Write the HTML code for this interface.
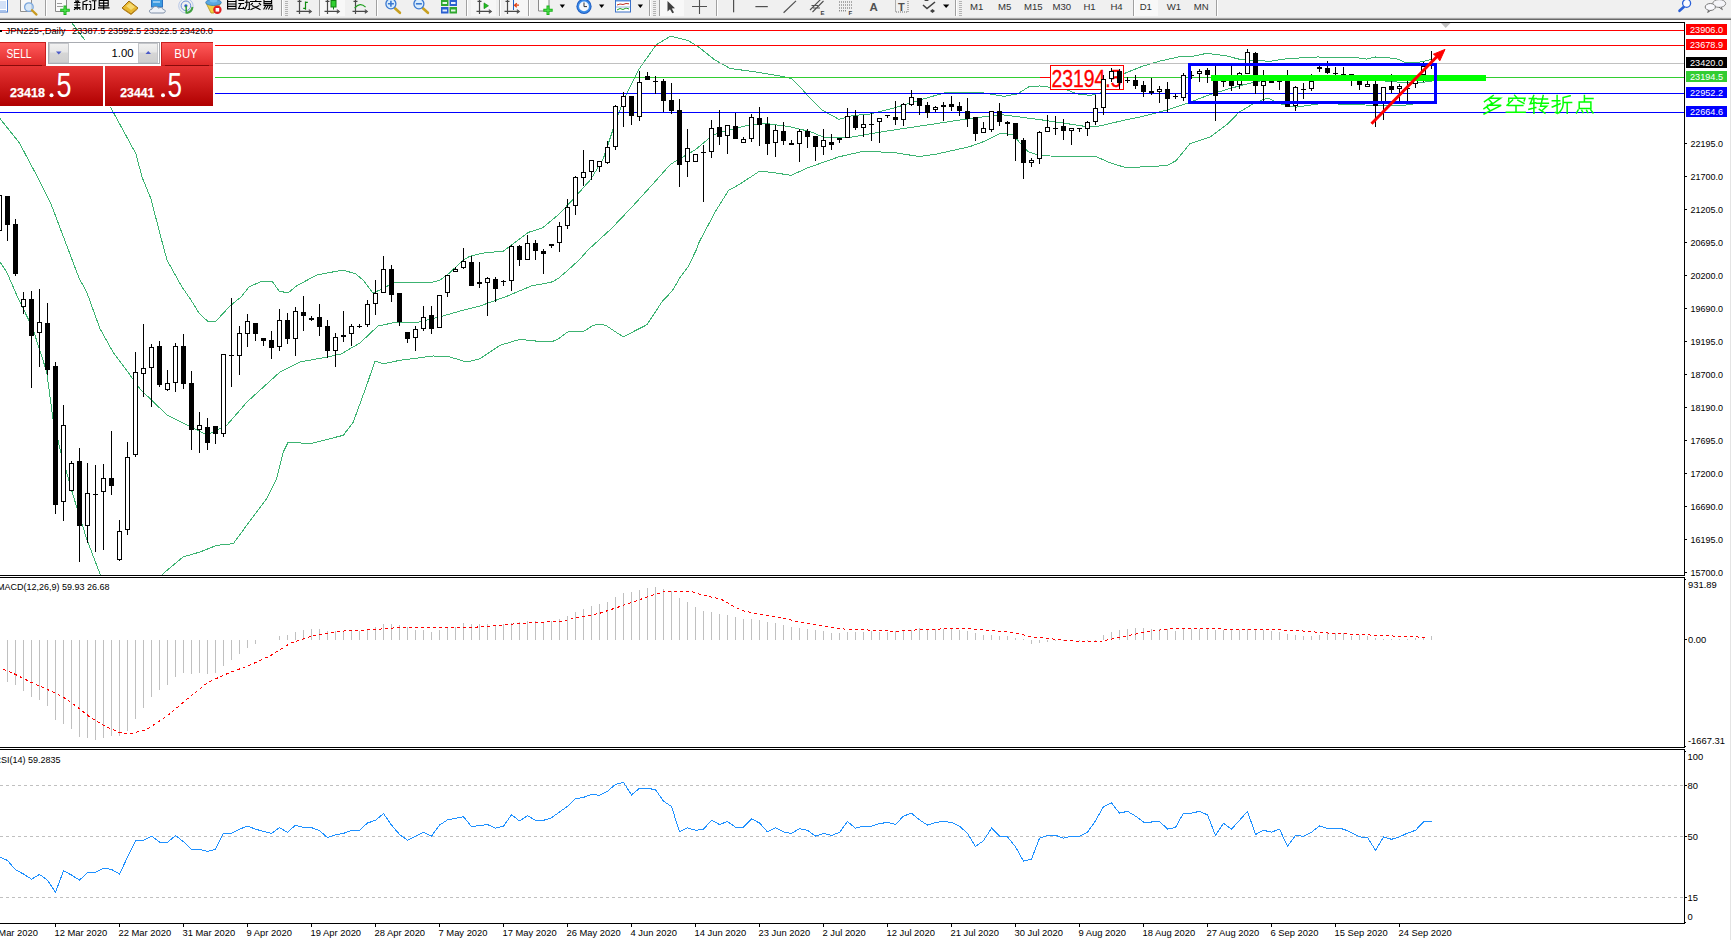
<!DOCTYPE html>
<html><head><meta charset="utf-8"><title>MT4 JPN225 Daily</title>
<style>
html,body{margin:0;padding:0;background:#fff;}
body{width:1731px;height:940px;overflow:hidden;position:relative;font-family:'Liberation Sans',sans-serif;}
</style></head><body>
<svg width="1731" height="940" viewBox="0 0 1731 940" style="position:absolute;left:0;top:0"><defs><clipPath id="cm"><rect x="0" y="23" width="1684" height="552"/></clipPath><clipPath id="cmacd"><rect x="0" y="578" width="1684" height="169"/></clipPath><clipPath id="crsi"><rect x="0" y="750" width="1684" height="173"/></clipPath><linearGradient id="gSellBtn" x1="0" y1="0" x2="0" y2="1"><stop offset="0" stop-color="#ff5a5a"/><stop offset="1" stop-color="#e02a2a"/></linearGradient><linearGradient id="gPrice" x1="0" y1="0" x2="0" y2="1"><stop offset="0" stop-color="#e63434"/><stop offset="1" stop-color="#b00000"/></linearGradient><linearGradient id="gSpin" x1="0" y1="0" x2="0" y2="1"><stop offset="0" stop-color="#f2f2f2"/><stop offset="0.45" stop-color="#e6e6e6"/><stop offset="0.5" stop-color="#d6d6d6"/><stop offset="1" stop-color="#cfcfcf"/></linearGradient></defs><rect x="0" y="0" width="1731" height="18" fill="#f0f0f0"/><rect x="0" y="17" width="1731" height="1" fill="#e4e4e4"/><rect x="0" y="18" width="1731" height="1" fill="#a4a4a4"/><rect x="0" y="19" width="1731" height="1" fill="#686868"/><rect x="-4" y="-2" width="11.5" height="14" fill="#ffffff" stroke="#4b7fd0" stroke-width="1"/><rect x="0" y="1.5" width="6" height="1" fill="#a8c4f0"/><rect x="0" y="3.5" width="6" height="1" fill="#a8c4f0"/><rect x="0" y="5.5" width="6" height="1" fill="#a8c4f0"/><rect x="0" y="7.5" width="6" height="1" fill="#a8c4f0"/><rect x="0" y="10" width="6" height="1" fill="#a8c4f0"/><path d="M20.5 -1 V11.5 H31.5 V-1" fill="#f8f8f8" stroke="#909090" stroke-width="1"/><circle cx="28.9" cy="7.1" r="4.3" fill="#cfe3f8" fill-opacity="0.8" stroke="#7aa6dc" stroke-width="1.3"/><path d="M32 10.2 L36.5 14.6" stroke="#c89a20" stroke-width="2.2" stroke-linecap="round"/><rect x="45" y="0" width="1" height="16" fill="#a0a0a0"/><rect x="46" y="0" width="1" height="16" fill="#ffffff"/><path d="M55.5 -1 V11.5 H66.5 V-1" fill="#fafafa" stroke="#8a8a8a" stroke-width="1"/><rect x="57" y="3" width="5" height="1" fill="#9a9a9a"/><rect x="57" y="6" width="6" height="1" fill="#9a9a9a"/><path d="M65 5.5 V15 M60.2 10.2 H69.8" stroke="#19b219" stroke-width="3"/><path d="M65 6.5 V14 M61.2 10.2 H68.8" stroke="#58e858" stroke-width="1"/><path d="M74 2.5H80.5 M74.5 5H80 M74 7.5H80.5 M77.2 0V10 M76.5 7.8L74 9.8 M78 7.8L80.5 9.5 M75.5 0.5L76.2 2 M79 0.5L78.3 2 M83 1.5V10 M83 4.5H88.5 M86.3 4.5V10 M87.5 0.3L83.5 1.8 M89.5 1L90.8 2.3 M89.2 4.5H90.8V9L89.3 10 M91.8 0.7H96.5 M94.6 0.7V9.5L92.7 9.5 M99.2 0.5V5.8H108.2V0.5Z M99.2 3.1H108.2 M103.7 0V10 M98 7.8H109.5" stroke="#000" stroke-width="1.15" fill="none"/><path d="M122 8 L129 1 L138 8 L131 14 Z" fill="#e8b830" stroke="#9a6a10" stroke-width="1"/><path d="M123 9 L131 14.5 L137.5 9" fill="none" stroke="#c08a20" stroke-width="1"/><path d="M126 6 L130 3 L135 7 L131 10 Z" fill="#f6da70"/><rect x="151.5" y="-1" width="11" height="8" fill="#3c9ae0" stroke="#2a70c0" stroke-width="1"/><rect x="153" y="1.5" width="7" height="1" fill="#e8f4ff"/><path d="M151.5 13 C148.5 13 149 9 152 9.2 C152.5 6 157.5 5.5 158.5 8.2 C160 6.8 163 7.5 163 9.5 C166 9.5 166 13 163 13 Z" fill="#eef2f8" stroke="#8090a8" stroke-width="1"/><circle cx="185.9" cy="5.8" r="7.2" fill="none" stroke="#b8c8e8" stroke-width="1"/><circle cx="185.9" cy="5.8" r="4.8" fill="none" stroke="#6a8ed8" stroke-width="1"/><path d="M192.5 7 A7 7 0 0 1 186.5 13" fill="none" stroke="#40a040" stroke-width="2"/><circle cx="185.9" cy="5.8" r="1.6" fill="#2a5ac8"/><path d="M186.2 6 V13.5" stroke="#30a030" stroke-width="1.5"/><path d="M206 3 L221 3 L214 13 L211 13 Z" fill="#f0d040" stroke="#b09020" stroke-width="0.8"/><ellipse cx="213.5" cy="2.5" rx="7.8" ry="3" fill="#5aa8e0" stroke="#3078b8" stroke-width="0.8"/><ellipse cx="213.5" cy="0" rx="4" ry="2.5" fill="#7ac0f0"/><circle cx="217.4" cy="9.8" r="4.2" fill="#e02020"/><rect x="215.6" y="8" width="3.6" height="3.6" fill="#ffffff"/><path d="M227.6 0V9.5 M236 0V9.5 M227.6 1.5H236 M227.6 4H236 M227.6 6.3H236 M227.6 8.8H236 M238.4 0.4H244.2 M238.4 3.5H244.2 M241 3.5L238.6 8.5H244 L243 7 M244.8 2.2H249.3V9.5H247.5 M246.8 0V5 L244.6 9.8 M255.8 -0.5V1 M250 1.5H261.5 M252.8 3L250.6 5 M258.8 3L261 5 M252 5.5L260.5 9.8 M259.3 5.5L250.5 9.8 M264 -0.5V3.6H271.6V-0.5 M264 1.6H271.6 M263.5 5.3H272V9.5H270.5 M266 5.3L263.6 9.5 M268.4 5.3L265.8 9.5 M270.7 5.3L268.4 9.5" stroke="#000" stroke-width="1.15" fill="none"/><rect x="281" y="0" width="1" height="16" fill="#a0a0a0"/><rect x="282" y="0" width="1" height="16" fill="#ffffff"/><rect x="285" y="1" width="3" height="1" fill="#b4b4b4"/><rect x="285" y="3" width="3" height="1" fill="#b4b4b4"/><rect x="285" y="5" width="3" height="1" fill="#b4b4b4"/><rect x="285" y="7" width="3" height="1" fill="#b4b4b4"/><rect x="285" y="9" width="3" height="1" fill="#b4b4b4"/><rect x="285" y="11" width="3" height="1" fill="#b4b4b4"/><rect x="285" y="13" width="3" height="1" fill="#b4b4b4"/><rect x="285" y="15" width="3" height="1" fill="#b4b4b4"/><path d="M299.5 0V13.9M296.5 11.4H310.5M297.5 1.4H301.5" stroke="#4a4a4a" stroke-width="1.2" fill="none"/><path d="M308.8 9.6L311.3 11.4L308.8 13.200000000000001" stroke="#4a4a4a" stroke-width="1.1" fill="none"/><path d="M305.5 1.4 V9.7 M305.5 2.4 H307.8 M303.2 8.3 H305.5" stroke="#108a10" stroke-width="1.2" fill="none"/><rect x="319" y="0" width="1" height="16" fill="#a0a0a0"/><rect x="320" y="0" width="1" height="16" fill="#ffffff"/><rect x="320" y="0" width="25" height="16" fill="#f8f8f8"/><path d="M327.5 0V13.9M324.5 11.4H338.5M325.5 1.4H329.5" stroke="#4a4a4a" stroke-width="1.2" fill="none"/><path d="M336.8 9.6L339.3 11.4L336.8 13.200000000000001" stroke="#4a4a4a" stroke-width="1.1" fill="none"/><rect x="331" y="0.5" width="5" height="6.5" fill="#30d030" stroke="#108010" stroke-width="1"/><rect x="333" y="7" width="1" height="2.5" fill="#108010"/><path d="M355.5 0V13.9M352.5 11.4H366.5M353.5 1.4H357.5" stroke="#4a4a4a" stroke-width="1.2" fill="none"/><path d="M364.8 9.6L367.3 11.4L364.8 13.200000000000001" stroke="#4a4a4a" stroke-width="1.1" fill="none"/><path d="M354.6 8.2 Q360 1.5 365.6 7.1" stroke="#20a020" stroke-width="1.2" fill="none"/><rect x="376" y="0" width="1" height="16" fill="#a0a0a0"/><rect x="377" y="0" width="1" height="16" fill="#ffffff"/><path d="M394.9 8.3 L399.9 12.8" stroke="#c8a020" stroke-width="2.6" stroke-linecap="round"/><circle cx="390.9" cy="3.8" r="5" fill="#d8ecfc" stroke="#3a78d0" stroke-width="1.3"/><path d="M387.9 3.8H393.9 M390.9 0.8V6.8" stroke="#3a78d0" stroke-width="1.6"/><path d="M422.9 8.3 L427.9 12.8" stroke="#c8a020" stroke-width="2.6" stroke-linecap="round"/><circle cx="418.9" cy="3.8" r="5" fill="#d8ecfc" stroke="#3a78d0" stroke-width="1.3"/><path d="M415.9 3.8H421.9" stroke="#3a78d0" stroke-width="1.6"/><rect x="441" y="-1" width="7.5" height="7" fill="#30a830"/><rect x="449.5" y="-1" width="7.5" height="7" fill="#2a60d0"/><rect x="441" y="7" width="7.5" height="6.5" fill="#2a60d0"/><rect x="449.5" y="7" width="7.5" height="6.5" fill="#30a830"/><rect x="442.5" y="2" width="4.5" height="2" fill="#e8f8e8"/><rect x="451" y="2" width="4.5" height="2" fill="#e8f0ff"/><rect x="442.5" y="9.5" width="4.5" height="2" fill="#e8f0ff"/><rect x="451" y="9.5" width="4.5" height="2" fill="#e8f8e8"/><rect x="466" y="0" width="1" height="16" fill="#a0a0a0"/><rect x="467" y="0" width="1" height="16" fill="#ffffff"/><rect x="471" y="0" width="25" height="16" fill="#f6f6f6"/><path d="M479.5 0V13.9M476.5 11.4H490.5M477.5 1.4H481.5" stroke="#4a4a4a" stroke-width="1.2" fill="none"/><path d="M488.8 9.6L491.3 11.4L488.8 13.200000000000001" stroke="#4a4a4a" stroke-width="1.1" fill="none"/><path d="M484 2.9 L488.5 5.8 L484 8.7 Z" fill="#20c020" stroke="#108010" stroke-width="0.6"/><rect x="499" y="0" width="1" height="16" fill="#a0a0a0"/><rect x="500" y="0" width="1" height="16" fill="#ffffff"/><rect x="505" y="0" width="24" height="16" fill="#f6f6f6"/><path d="M507.5 0V13.9M504.5 11.4H518.5M505.5 1.4H509.5" stroke="#4a4a4a" stroke-width="1.2" fill="none"/><path d="M516.8 9.6L519.3 11.4L516.8 13.200000000000001" stroke="#4a4a4a" stroke-width="1.1" fill="none"/><rect x="513" y="0" width="1" height="10" fill="#2060c0"/><path d="M519 5.2 H515 M516.8 3.2 L514.5 5.2 L516.8 7.2" stroke="#e04010" stroke-width="1.2" fill="none"/><rect x="528" y="0" width="1" height="16" fill="#a0a0a0"/><rect x="529" y="0" width="1" height="16" fill="#ffffff"/><path d="M538.5 -1 V11 H549 V-1" fill="#fafafa" stroke="#8a8a8a" stroke-width="1"/><path d="M548 5.5 V15 M543.3 10.2 H552.7" stroke="#19b219" stroke-width="3"/><path d="M548 6.5 V14 M544.3 10.2 H551.7" stroke="#58e858" stroke-width="1"/><path d="M559.7 4.6 H565 L562.35 8 Z" fill="#000"/><circle cx="584" cy="6.4" r="7.6" fill="#1e5cc0"/><circle cx="584" cy="6.4" r="6.6" fill="#3a8ae8"/><circle cx="584" cy="6.4" r="4.9" fill="#f4f8fc"/><path d="M584 2.5 V6.6 H587" stroke="#333" stroke-width="1" fill="none"/><path d="M599 4.6 H604.3 L601.65 8 Z" fill="#000"/><rect x="615.5" y="-1" width="15" height="13" fill="#ffffff" stroke="#3a70c8" stroke-width="1"/><rect x="616" y="-1" width="14" height="2.5" fill="#5a90e0"/><path d="M617 5 L620 4 L623 4.5 L626 3.5 L629 3.8" stroke="#c03020" stroke-width="1" fill="none"/><path d="M617 10 L620 8.5 L623 9.5 L626 8 L629 9" stroke="#20a020" stroke-width="1" fill="none"/><rect x="616" y="6.5" width="14" height="1" fill="#a0b8e0"/><path d="M637.7 4.6 H643 L640.35 8 Z" fill="#000"/><rect x="649" y="0" width="1" height="16" fill="#a0a0a0"/><rect x="650" y="0" width="1" height="16" fill="#ffffff"/><rect x="653" y="1" width="3" height="1" fill="#b4b4b4"/><rect x="653" y="3" width="3" height="1" fill="#b4b4b4"/><rect x="653" y="5" width="3" height="1" fill="#b4b4b4"/><rect x="653" y="7" width="3" height="1" fill="#b4b4b4"/><rect x="653" y="9" width="3" height="1" fill="#b4b4b4"/><rect x="653" y="11" width="3" height="1" fill="#b4b4b4"/><rect x="653" y="13" width="3" height="1" fill="#b4b4b4"/><rect x="653" y="15" width="3" height="1" fill="#b4b4b4"/><rect x="659" y="0" width="1" height="16" fill="#a0a0a0"/><rect x="660" y="0" width="1" height="16" fill="#ffffff"/><rect x="660" y="0" width="24" height="16" fill="#f8f8f8"/><path d="M667.5 1 L667.5 11.5 L670 9.3 L672.3 13.3 L674 12.4 L671.8 8.5 L675 8.2 Z" fill="#404040"/><path d="M692 6.5 H707 M699.5 0 V14" stroke="#505050" stroke-width="1.1"/><rect x="716" y="0" width="1" height="16" fill="#a0a0a0"/><rect x="717" y="0" width="1" height="16" fill="#ffffff"/><rect x="733" y="0" width="1.2" height="12.3" fill="#505050"/><rect x="755.4" y="6" width="12.4" height="1.2" fill="#505050"/><path d="M783.6 12.7 L796 0.9" stroke="#505050" stroke-width="1.2"/><path d="M810 10 L821 -1 M812.5 12 L823.5 1 M811.5 5.5 H818 M813 8 H820" stroke="#505050" stroke-width="1.1" fill="none"/><text x="820.4" y="15" font-family="'Liberation Sans', sans-serif" font-size="6" font-weight="bold" fill="#404040">E</text><path d="M839 2H852 M839 5H852 M839 8H852 M839 10.8H846" stroke="#606060" stroke-width="1" stroke-dasharray="1,1" fill="none"/><text x="848.5" y="15" font-family="'Liberation Sans', sans-serif" font-size="6" font-weight="bold" fill="#404040">F</text><text x="869.5" y="11" font-family="'Liberation Sans', sans-serif" font-size="11.5" font-weight="bold" fill="#505050">A</text><rect x="895.5" y="-0.5" width="12.5" height="12.5" fill="none" stroke="#707070" stroke-width="1" stroke-dasharray="1,1"/><text x="898" y="10.5" font-family="'Liberation Sans', sans-serif" font-size="11" font-weight="bold" fill="#505050">T</text><path d="M924 1 L926.5 -1 L929 1 Z M930 11 L932.5 13 L935 11 L932.5 9 Z" fill="#404040"/><path d="M923 5 L927 8.5 L935 2" stroke="#404040" stroke-width="1.6" fill="none"/><path d="M943 4.5 H949.3 L946.15 8 Z" fill="#000"/><rect x="955" y="0" width="1" height="16" fill="#a0a0a0"/><rect x="956" y="0" width="1" height="16" fill="#ffffff"/><rect x="959" y="1" width="3" height="1" fill="#b4b4b4"/><rect x="959" y="3" width="3" height="1" fill="#b4b4b4"/><rect x="959" y="5" width="3" height="1" fill="#b4b4b4"/><rect x="959" y="7" width="3" height="1" fill="#b4b4b4"/><rect x="959" y="9" width="3" height="1" fill="#b4b4b4"/><rect x="959" y="11" width="3" height="1" fill="#b4b4b4"/><rect x="959" y="13" width="3" height="1" fill="#b4b4b4"/><rect x="959" y="15" width="3" height="1" fill="#b4b4b4"/><text x="970" y="10.2" font-family="'Liberation Sans', sans-serif" font-size="9.6" fill="#333">M1</text><text x="998" y="10.2" font-family="'Liberation Sans', sans-serif" font-size="9.6" fill="#333">M5</text><text x="1024" y="10.2" font-family="'Liberation Sans', sans-serif" font-size="9.6" fill="#333">M15</text><text x="1052.5" y="10.2" font-family="'Liberation Sans', sans-serif" font-size="9.6" fill="#333">M30</text><text x="1083.4" y="10.2" font-family="'Liberation Sans', sans-serif" font-size="9.6" fill="#333">H1</text><text x="1110.4" y="10.2" font-family="'Liberation Sans', sans-serif" font-size="9.6" fill="#333">H4</text><rect x="1133" y="0" width="25" height="16" fill="#f8f8f8"/><rect x="1133" y="0" width="1" height="16" fill="#a0a0a0"/><rect x="1134" y="0" width="1" height="16" fill="#ffffff"/><text x="1139.7" y="10.2" font-family="'Liberation Sans', sans-serif" font-size="9.6" fill="#333">D1</text><text x="1166.8" y="10.2" font-family="'Liberation Sans', sans-serif" font-size="9.6" fill="#333">W1</text><text x="1193.8" y="10.2" font-family="'Liberation Sans', sans-serif" font-size="9.6" fill="#333">MN</text><rect x="1216" y="0" width="1" height="16" fill="#a0a0a0"/><rect x="1217" y="0" width="1" height="16" fill="#ffffff"/><path d="M1683.7 7 L1679.5 10.8" stroke="#2a60d8" stroke-width="2.6" stroke-linecap="round"/><circle cx="1686.6" cy="3.3" r="4" fill="#fbfbff" stroke="#2a60d8" stroke-width="1.3"/><ellipse cx="1719.2" cy="3.5" rx="6.5" ry="3.9" fill="#f4f4f8" stroke="#8a8a8a" stroke-width="1"/><path d="M1721 7 L1722.4 9.6 L1719 7.2" fill="#f4f4f8" stroke="#6a6a6a" stroke-width="1"/><ellipse cx="1710.3" cy="7" rx="5.1" ry="3.5" fill="#f8f8fc" stroke="#7a7a7a" stroke-width="1"/><path d="M1708.8 10.2 L1707.7 12.4 L1710.6 10.4" fill="#f4f4f8" stroke="#5a5a5a" stroke-width="1"/><rect x="1730" y="20" width="1" height="920" fill="#e4e4e4"/><g clip-path="url(#cm)"><polyline points="72.0,23.0 84.0,39.0 111.0,108.0 136.0,154.0 142.0,177.0 151.0,199.0 160.0,234.0 167.0,260.0 182.0,287.0 191.0,300.0 199.0,313.0 208.0,321.6 215.5,321.6 230.0,306.0 241.0,297.0 249.0,287.0 262.0,281.0 272.0,281.0 279.0,291.0 288.0,293.0 297.0,285.5 317.0,275.0 330.0,272.5 343.0,270.0 356.0,274.0 364.0,281.0 373.0,293.0 382.0,289.0 393.0,283.0 419.0,282.0 430.0,283.0 440.0,280.0 449.0,273.5 463.5,259.6 470.0,256.3 482.5,253.2 503.4,251.1 511.7,244.9 528.4,232.4 543.0,227.6 559.6,213.6 574.2,198.0 590.9,179.2 603.4,158.4 615.9,120.8 624.4,98.2 638.9,69.3 656.2,44.8 670.6,36.1 688.0,40.4 699.5,47.7 714.9,60.0 730.2,68.5 755.7,71.9 781.2,76.2 791.5,78.7 805.0,92.3 810.0,98.3 822.0,110.0 839.0,119.4 852.6,115.5 869.9,114.1 893.0,108.3 930.6,96.8 948.0,92.0 978.7,92.0 1004.0,96.4 1017.8,93.8 1029.7,86.2 1040.0,86.0 1065.5,89.4 1079.0,94.5 1091.0,95.3 1101.3,92.8 1114.9,82.5 1125.1,73.2 1142.1,66.4 1159.1,61.3 1179.6,56.7 1189.8,57.0 1206.8,53.3 1225.5,55.7 1240.8,59.6 1270.0,61.3 1287.0,58.7 1317.7,57.0 1355.0,57.4 1367.0,59.1 1375.5,57.0 1396.0,58.4 1404.4,62.1 1419.8,62.1 1431.0,59.6" fill="none" stroke="#3cb371" stroke-width="1" shape-rendering="crispEdges"/><polyline points="0.0,118.6 19.2,142.6 34.5,171.3 51.0,204.0 79.0,278.0 86.7,292.0 100.0,328.7 113.0,352.0 130.0,375.0 140.0,389.0 167.0,415.0 187.0,425.0 207.0,435.0 227.0,425.0 247.0,402.0 280.0,372.0 300.0,362.0 327.0,357.0 341.0,354.0 360.0,343.0 378.0,326.0 397.0,322.0 419.0,322.0 443.0,316.0 460.0,311.0 480.0,306.0 507.5,296.0 532.5,285.5 540.0,284.4 552.5,281.8 558.8,278.1 572.3,266.2 579.6,259.4 588.0,250.0 611.8,228.2 632.6,206.3 653.4,183.4 670.1,164.6 678.5,159.4 695.1,150.0 713.2,134.9 724.3,131.3 747.2,125.5 764.2,123.3 788.0,126.4 810.0,131.5 824.4,137.5 846.0,138.0 885.0,131.3 919.0,126.2 970.0,118.5 1000.8,114.6 1038.3,119.4 1065.5,123.4 1087.7,126.8 1099.6,126.0 1125.0,120.0 1142.0,116.6 1167.6,109.8 1188.0,103.0 1210.0,94.5 1227.0,89.4 1244.0,84.6 1261.0,80.8 1290.0,80.0 1372.0,80.0 1414.7,83.4 1431.7,81.2" fill="none" stroke="#3cb371" stroke-width="1" shape-rendering="crispEdges"/><polyline points="0.0,262.0 6.7,272.0 16.7,295.0 33.0,329.0 46.7,372.0 53.0,419.0 60.0,449.0 73.0,495.0 86.7,539.0 100.0,574.0 110.0,600.0 150.0,600.0 163.0,573.7 183.0,557.0 200.0,552.0 216.7,545.3 233.3,543.7 246.7,525.3 266.7,498.7 276.7,478.7 283.3,452.0 288.3,442.0 310.0,443.7 343.3,435.3 353.3,422.0 366.7,385.3 375.0,361.0 383.3,363.7 400.0,360.3 433.3,356.0 450.0,357.0 466.7,362.0 480.0,358.7 500.0,345.3 520.0,339.3 540.0,341.5 552.5,341.5 558.8,338.6 567.1,332.3 571.3,331.3 583.8,331.3 593.2,325.3 599.4,324.2 605.7,325.3 623.4,337.0 635.9,330.3 646.8,324.8 662.5,301.1 672.4,290.7 679.7,278.1 688.0,266.7 696.3,250.0 699.3,241.8 716.0,210.5 728.5,190.5 741.0,183.4 759.5,171.2 771.0,172.3 791.2,175.3 807.7,167.8 839.0,156.8 863.0,151.3 893.6,152.5 919.0,156.5 936.0,154.2 970.0,146.6 983.8,141.5 1000.8,133.3 1012.7,134.7 1028.0,151.7 1038.0,155.0 1050.0,156.0 1096.0,156.6 1111.5,163.4 1125.0,167.3 1150.6,166.8 1167.6,165.1 1176.0,160.8 1189.8,143.8 1210.2,137.0 1227.2,124.2 1239.0,112.3 1254.4,103.0 1268.0,97.9 1280.0,103.8 1295.5,107.2 1324.5,103.0 1346.6,104.7 1365.3,105.0 1385.7,105.5 1402.7,105.5 1420.0,103.0 1431.0,102.0" fill="none" stroke="#3cb371" stroke-width="1" shape-rendering="crispEdges"/><rect x="0" y="30" width="1684" height="1" fill="#ff0000"/><rect x="0" y="45" width="1684" height="1" fill="#ff0000"/><rect x="0" y="63" width="1684" height="1" fill="#c0c0c0"/><rect x="0" y="77" width="1684" height="1" fill="#32cd32"/><rect x="0" y="93" width="1684" height="1" fill="#0000ff"/><rect x="0" y="112" width="1684" height="1" fill="#0000ff"/><rect x="1040" y="77" width="10" height="1" fill="#ff0000"/><rect x="1050.5" y="65.5" width="73" height="24" fill="#ffffff" stroke="#ff0000" stroke-width="1"/><text x="1051.5" y="86.6" font-family="'Liberation Sans', sans-serif" font-size="23.3" fill="#ff0000" textLength="70" lengthAdjust="spacingAndGlyphs" stroke="#ff0000" stroke-width="0.35">23194.5</text><g fill="#000" shape-rendering="crispEdges"><path d="M-3 195h5v36h-5z M-2 196v34h3v-34z" fill-rule="evenodd"/><rect x="-2" y="196" width="3" height="34" fill="#fff"/><rect x="7" y="225" width="1" height="16"/><rect x="5" y="196" width="5" height="29"/><rect x="15" y="219" width="1" height="5"/><rect x="15" y="274" width="1" height="2"/><rect x="13" y="224" width="5" height="50"/><rect x="23" y="292" width="1" height="7"/><rect x="23" y="307" width="1" height="7"/><path d="M21 299h5v8h-5z M22 300v6h3v-6z" fill-rule="evenodd"/><rect x="22" y="300" width="3" height="6" fill="#fff"/><rect x="31" y="291" width="1" height="8"/><rect x="31" y="336" width="1" height="52"/><rect x="29" y="299" width="5" height="37"/><rect x="39" y="289" width="1" height="33"/><rect x="39" y="333" width="1" height="34"/><path d="M37 322h5v11h-5z M38 323v9h3v-9z" fill-rule="evenodd"/><rect x="38" y="323" width="3" height="9" fill="#fff"/><rect x="47" y="303" width="1" height="20"/><rect x="47" y="370" width="1" height="5"/><rect x="45" y="323" width="5" height="47"/><rect x="55" y="362" width="1" height="4"/><rect x="55" y="505" width="1" height="9"/><rect x="53" y="366" width="5" height="139"/><rect x="63" y="405" width="1" height="20"/><rect x="63" y="502" width="1" height="19"/><path d="M61 425h5v77h-5z M62 426v75h3v-75z" fill-rule="evenodd"/><rect x="62" y="426" width="3" height="75" fill="#fff"/><rect x="71" y="461" width="1" height="2"/><path d="M69 463h5v28h-5z M70 464v26h3v-26z" fill-rule="evenodd"/><rect x="70" y="464" width="3" height="26" fill="#fff"/><rect x="79" y="448" width="1" height="13"/><rect x="79" y="526" width="1" height="36"/><rect x="77" y="461" width="5" height="65"/><rect x="87" y="463" width="1" height="30"/><rect x="87" y="526" width="1" height="17"/><path d="M85 493h5v33h-5z M86 494v31h3v-31z" fill-rule="evenodd"/><rect x="86" y="494" width="3" height="31" fill="#fff"/><rect x="95" y="465" width="1" height="29"/><rect x="95" y="495" width="1" height="57"/><rect x="93" y="494" width="5" height="1"/><rect x="103" y="464" width="1" height="14"/><rect x="103" y="492" width="1" height="58"/><path d="M101 478h5v14h-5z M102 479v12h3v-12z" fill-rule="evenodd"/><rect x="102" y="479" width="3" height="12" fill="#fff"/><rect x="111" y="431" width="1" height="47"/><rect x="111" y="486" width="1" height="9"/><rect x="109" y="478" width="5" height="8"/><rect x="119" y="520" width="1" height="11"/><rect x="119" y="560" width="1" height="1"/><path d="M117 531h5v29h-5z M118 532v27h3v-27z" fill-rule="evenodd"/><rect x="118" y="532" width="3" height="27" fill="#fff"/><rect x="127" y="442" width="1" height="15"/><rect x="127" y="530" width="1" height="5"/><path d="M125 457h5v73h-5z M126 458v71h3v-71z" fill-rule="evenodd"/><rect x="126" y="458" width="3" height="71" fill="#fff"/><rect x="135" y="352" width="1" height="20"/><rect x="135" y="455" width="1" height="2"/><path d="M133 372h5v83h-5z M134 373v81h3v-81z" fill-rule="evenodd"/><rect x="134" y="373" width="3" height="81" fill="#fff"/><rect x="143" y="324" width="1" height="44"/><rect x="143" y="374" width="1" height="23"/><path d="M141 368h5v6h-5z M142 369v4h3v-4z" fill-rule="evenodd"/><rect x="142" y="369" width="3" height="4" fill="#fff"/><rect x="151" y="344" width="1" height="3"/><rect x="151" y="368" width="1" height="39"/><path d="M149 347h5v21h-5z M150 348v19h3v-19z" fill-rule="evenodd"/><rect x="150" y="348" width="3" height="19" fill="#fff"/><rect x="159" y="341" width="1" height="5"/><rect x="159" y="385" width="1" height="2"/><rect x="157" y="346" width="5" height="39"/><rect x="167" y="370" width="1" height="13"/><rect x="167" y="390" width="1" height="1"/><path d="M165 383h5v7h-5z M166 384v5h3v-5z" fill-rule="evenodd"/><rect x="166" y="384" width="3" height="5" fill="#fff"/><rect x="175" y="343" width="1" height="3"/><rect x="175" y="383" width="1" height="9"/><path d="M173 346h5v37h-5z M174 347v35h3v-35z" fill-rule="evenodd"/><rect x="174" y="347" width="3" height="35" fill="#fff"/><rect x="183" y="334" width="1" height="12"/><rect x="183" y="384" width="1" height="5"/><rect x="181" y="346" width="5" height="38"/><rect x="191" y="371" width="1" height="12"/><rect x="191" y="430" width="1" height="20"/><rect x="189" y="383" width="5" height="47"/><rect x="199" y="412" width="1" height="13"/><rect x="199" y="430" width="1" height="23"/><path d="M197 425h5v5h-5z M198 426v3h3v-3z" fill-rule="evenodd"/><rect x="198" y="426" width="3" height="3" fill="#fff"/><rect x="207" y="418" width="1" height="9"/><rect x="207" y="443" width="1" height="7"/><rect x="205" y="427" width="5" height="16"/><rect x="215" y="434" width="1" height="10"/><rect x="213" y="426" width="5" height="8"/><rect x="223" y="434" width="1" height="3"/><path d="M221 354h5v80h-5z M222 355v78h3v-78z" fill-rule="evenodd"/><rect x="222" y="355" width="3" height="78" fill="#fff"/><rect x="231" y="298" width="1" height="57"/><rect x="231" y="356" width="1" height="31"/><rect x="229" y="355" width="5" height="1"/><rect x="239" y="326" width="1" height="7"/><rect x="239" y="356" width="1" height="19"/><path d="M237 333h5v23h-5z M238 334v21h3v-21z" fill-rule="evenodd"/><rect x="238" y="334" width="3" height="21" fill="#fff"/><rect x="247" y="314" width="1" height="7"/><rect x="247" y="334" width="1" height="13"/><path d="M245 321h5v13h-5z M246 322v11h3v-11z" fill-rule="evenodd"/><rect x="246" y="322" width="3" height="11" fill="#fff"/><rect x="255" y="334" width="1" height="7"/><rect x="253" y="323" width="5" height="11"/><rect x="263" y="341" width="1" height="5"/><rect x="261" y="338" width="5" height="3"/><rect x="271" y="331" width="1" height="9"/><rect x="271" y="348" width="1" height="11"/><rect x="269" y="340" width="5" height="8"/><rect x="279" y="309" width="1" height="11"/><rect x="279" y="347" width="1" height="4"/><path d="M277 320h5v27h-5z M278 321v25h3v-25z" fill-rule="evenodd"/><rect x="278" y="321" width="3" height="25" fill="#fff"/><rect x="287" y="313" width="1" height="7"/><rect x="287" y="339" width="1" height="5"/><rect x="285" y="320" width="5" height="19"/><rect x="295" y="307" width="1" height="4"/><rect x="295" y="339" width="1" height="17"/><path d="M293 311h5v28h-5z M294 312v26h3v-26z" fill-rule="evenodd"/><rect x="294" y="312" width="3" height="26" fill="#fff"/><rect x="303" y="296" width="1" height="16"/><rect x="303" y="316" width="1" height="15"/><rect x="301" y="312" width="5" height="4"/><rect x="311" y="316" width="1" height="2"/><rect x="311" y="320" width="1" height="1"/><rect x="309" y="318" width="5" height="2"/><rect x="319" y="304" width="1" height="13"/><rect x="319" y="327" width="1" height="9"/><rect x="317" y="317" width="5" height="10"/><rect x="327" y="320" width="1" height="6"/><rect x="327" y="351" width="1" height="7"/><rect x="325" y="326" width="5" height="25"/><rect x="335" y="333" width="1" height="4"/><rect x="335" y="351" width="1" height="16"/><path d="M333 337h5v14h-5z M334 338v12h3v-12z" fill-rule="evenodd"/><rect x="334" y="338" width="3" height="12" fill="#fff"/><rect x="343" y="311" width="1" height="24"/><rect x="343" y="337" width="1" height="5"/><rect x="341" y="335" width="5" height="2"/><rect x="351" y="324" width="1" height="2"/><rect x="351" y="334" width="1" height="12"/><path d="M349 326h5v8h-5z M350 327v6h3v-6z" fill-rule="evenodd"/><rect x="350" y="327" width="3" height="6" fill="#fff"/><rect x="359" y="324" width="1" height="2"/><rect x="359" y="327" width="1" height="1"/><rect x="357" y="326" width="5" height="1"/><rect x="367" y="300" width="1" height="4"/><rect x="367" y="325" width="1" height="2"/><path d="M365 304h5v21h-5z M366 305v19h3v-19z" fill-rule="evenodd"/><rect x="366" y="305" width="3" height="19" fill="#fff"/><rect x="375" y="280" width="1" height="13"/><rect x="375" y="304" width="1" height="11"/><path d="M373 293h5v11h-5z M374 294v9h3v-9z" fill-rule="evenodd"/><rect x="374" y="294" width="3" height="9" fill="#fff"/><rect x="383" y="256" width="1" height="13"/><path d="M381 269h5v24h-5z M382 270v22h3v-22z" fill-rule="evenodd"/><rect x="382" y="270" width="3" height="22" fill="#fff"/><rect x="391" y="265" width="1" height="4"/><rect x="391" y="295" width="1" height="7"/><rect x="389" y="269" width="5" height="26"/><rect x="399" y="322" width="1" height="4"/><rect x="397" y="293" width="5" height="29"/><rect x="407" y="339" width="1" height="4"/><rect x="405" y="332" width="5" height="7"/><rect x="415" y="326" width="1" height="3"/><rect x="415" y="338" width="1" height="13"/><path d="M413 329h5v9h-5z M414 330v7h3v-7z" fill-rule="evenodd"/><rect x="414" y="330" width="3" height="7" fill="#fff"/><rect x="423" y="306" width="1" height="11"/><rect x="423" y="329" width="1" height="2"/><path d="M421 317h5v12h-5z M422 318v10h3v-10z" fill-rule="evenodd"/><rect x="422" y="318" width="3" height="10" fill="#fff"/><rect x="431" y="306" width="1" height="9"/><rect x="431" y="329" width="1" height="5"/><rect x="429" y="315" width="5" height="14"/><path d="M437 295h5v33h-5z M438 296v31h3v-31z" fill-rule="evenodd"/><rect x="438" y="296" width="3" height="31" fill="#fff"/><rect x="447" y="293" width="1" height="4"/><path d="M445 275h5v18h-5z M446 276v16h3v-16z" fill-rule="evenodd"/><rect x="446" y="276" width="3" height="16" fill="#fff"/><rect x="455" y="267" width="1" height="2"/><path d="M453 269h5v3h-5z M454 270v1h3v-1z" fill-rule="evenodd"/><rect x="454" y="270" width="3" height="1" fill="#fff"/><rect x="463" y="248" width="1" height="13"/><rect x="463" y="268" width="1" height="1"/><path d="M461 261h5v7h-5z M462 262v5h3v-5z" fill-rule="evenodd"/><rect x="462" y="262" width="3" height="5" fill="#fff"/><rect x="471" y="256" width="1" height="6"/><rect x="469" y="262" width="5" height="24"/><rect x="479" y="262" width="1" height="20"/><rect x="479" y="284" width="1" height="4"/><rect x="477" y="282" width="5" height="2"/><rect x="487" y="277" width="1" height="1"/><rect x="487" y="283" width="1" height="33"/><path d="M485 278h5v5h-5z M486 279v3h3v-3z" fill-rule="evenodd"/><rect x="486" y="279" width="3" height="3" fill="#fff"/><rect x="495" y="277" width="1" height="2"/><rect x="495" y="289" width="1" height="13"/><rect x="493" y="279" width="5" height="10"/><rect x="503" y="280" width="1" height="1"/><rect x="503" y="282" width="1" height="4"/><rect x="501" y="281" width="5" height="1"/><rect x="511" y="245" width="1" height="1"/><rect x="511" y="281" width="1" height="10"/><path d="M509 246h5v35h-5z M510 247v33h3v-33z" fill-rule="evenodd"/><rect x="510" y="247" width="3" height="33" fill="#fff"/><rect x="519" y="245" width="1" height="1"/><rect x="519" y="260" width="1" height="6"/><rect x="517" y="246" width="5" height="14"/><rect x="527" y="235" width="1" height="8"/><path d="M525 243h5v17h-5z M526 244v15h3v-15z" fill-rule="evenodd"/><rect x="526" y="244" width="3" height="15" fill="#fff"/><rect x="535" y="240" width="1" height="3"/><rect x="535" y="251" width="1" height="9"/><rect x="533" y="243" width="5" height="8"/><rect x="543" y="249" width="1" height="2"/><rect x="543" y="254" width="1" height="20"/><rect x="541" y="251" width="5" height="3"/><rect x="551" y="246" width="1" height="2"/><rect x="549" y="244" width="5" height="2"/><rect x="559" y="222" width="1" height="4"/><rect x="559" y="243" width="1" height="9"/><path d="M557 226h5v17h-5z M558 227v15h3v-15z" fill-rule="evenodd"/><rect x="558" y="227" width="3" height="15" fill="#fff"/><rect x="567" y="199" width="1" height="8"/><rect x="567" y="226" width="1" height="3"/><path d="M565 207h5v19h-5z M566 208v17h3v-17z" fill-rule="evenodd"/><rect x="566" y="208" width="3" height="17" fill="#fff"/><rect x="575" y="176" width="1" height="1"/><rect x="575" y="206" width="1" height="9"/><path d="M573 177h5v29h-5z M574 178v27h3v-27z" fill-rule="evenodd"/><rect x="574" y="178" width="3" height="27" fill="#fff"/><rect x="583" y="150" width="1" height="22"/><rect x="583" y="178" width="1" height="8"/><path d="M581 172h5v6h-5z M582 173v4h3v-4z" fill-rule="evenodd"/><rect x="582" y="173" width="3" height="4" fill="#fff"/><rect x="591" y="172" width="1" height="8"/><path d="M589 160h5v12h-5z M590 161v10h3v-10z" fill-rule="evenodd"/><rect x="590" y="161" width="3" height="10" fill="#fff"/><rect x="599" y="167" width="1" height="5"/><path d="M597 161h5v6h-5z M598 162v4h3v-4z" fill-rule="evenodd"/><rect x="598" y="162" width="3" height="4" fill="#fff"/><rect x="607" y="141" width="1" height="6"/><rect x="607" y="163" width="1" height="1"/><path d="M605 147h5v16h-5z M606 148v14h3v-14z" fill-rule="evenodd"/><rect x="606" y="148" width="3" height="14" fill="#fff"/><rect x="615" y="105" width="1" height="1"/><rect x="615" y="147" width="1" height="3"/><path d="M613 106h5v41h-5z M614 107v39h3v-39z" fill-rule="evenodd"/><rect x="614" y="107" width="3" height="39" fill="#fff"/><rect x="623" y="92" width="1" height="4"/><rect x="623" y="107" width="1" height="20"/><path d="M621 96h5v11h-5z M622 97v9h3v-9z" fill-rule="evenodd"/><rect x="622" y="97" width="3" height="9" fill="#fff"/><rect x="631" y="116" width="1" height="9"/><rect x="629" y="96" width="5" height="20"/><rect x="639" y="71" width="1" height="11"/><rect x="639" y="117" width="1" height="4"/><path d="M637 82h5v35h-5z M638 83v33h3v-33z" fill-rule="evenodd"/><rect x="638" y="83" width="3" height="33" fill="#fff"/><rect x="647" y="72" width="1" height="4"/><rect x="645" y="76" width="5" height="4"/><rect x="655" y="76" width="1" height="5"/><rect x="655" y="82" width="1" height="12"/><rect x="653" y="81" width="5" height="1"/><rect x="663" y="79" width="1" height="2"/><rect x="663" y="101" width="1" height="11"/><rect x="661" y="81" width="5" height="20"/><rect x="671" y="83" width="1" height="17"/><rect x="671" y="111" width="1" height="3"/><rect x="669" y="100" width="5" height="11"/><rect x="679" y="99" width="1" height="11"/><rect x="679" y="165" width="1" height="22"/><rect x="677" y="110" width="5" height="55"/><rect x="687" y="129" width="1" height="19"/><rect x="687" y="162" width="1" height="15"/><path d="M685 148h5v14h-5z M686 149v12h3v-12z" fill-rule="evenodd"/><rect x="686" y="149" width="3" height="12" fill="#fff"/><path d="M693 154h5v8h-5z M694 155v6h3v-6z" fill-rule="evenodd"/><rect x="694" y="155" width="3" height="6" fill="#fff"/><rect x="703" y="145" width="1" height="7"/><rect x="703" y="153" width="1" height="49"/><rect x="701" y="152" width="5" height="1"/><rect x="711" y="120" width="1" height="8"/><rect x="711" y="152" width="1" height="6"/><path d="M709 128h5v24h-5z M710 129v22h3v-22z" fill-rule="evenodd"/><rect x="710" y="129" width="3" height="22" fill="#fff"/><rect x="719" y="110" width="1" height="17"/><rect x="719" y="137" width="1" height="8"/><rect x="717" y="127" width="5" height="10"/><rect x="727" y="136" width="1" height="18"/><path d="M725 125h5v11h-5z M726 126v9h3v-9z" fill-rule="evenodd"/><rect x="726" y="126" width="3" height="9" fill="#fff"/><rect x="735" y="113" width="1" height="13"/><rect x="733" y="126" width="5" height="13"/><rect x="743" y="137" width="1" height="2"/><path d="M741 139h5v4h-5z M742 140v2h3v-2z" fill-rule="evenodd"/><rect x="742" y="140" width="3" height="2" fill="#fff"/><rect x="751" y="114" width="1" height="3"/><rect x="751" y="139" width="1" height="3"/><path d="M749 117h5v22h-5z M750 118v20h3v-20z" fill-rule="evenodd"/><rect x="750" y="118" width="3" height="20" fill="#fff"/><rect x="759" y="107" width="1" height="11"/><rect x="759" y="125" width="1" height="21"/><rect x="757" y="118" width="5" height="7"/><rect x="767" y="117" width="1" height="7"/><rect x="767" y="144" width="1" height="11"/><rect x="765" y="124" width="5" height="20"/><rect x="775" y="125" width="1" height="5"/><rect x="775" y="143" width="1" height="14"/><path d="M773 130h5v13h-5z M774 131v11h3v-11z" fill-rule="evenodd"/><rect x="774" y="131" width="3" height="11" fill="#fff"/><rect x="783" y="122" width="1" height="9"/><rect x="783" y="141" width="1" height="4"/><rect x="781" y="131" width="5" height="10"/><rect x="791" y="140" width="1" height="3"/><rect x="789" y="143" width="5" height="2"/><rect x="799" y="129" width="1" height="2"/><rect x="799" y="144" width="1" height="18"/><path d="M797 131h5v13h-5z M798 132v11h3v-11z" fill-rule="evenodd"/><rect x="798" y="132" width="3" height="11" fill="#fff"/><rect x="807" y="129" width="1" height="2"/><rect x="807" y="137" width="1" height="11"/><rect x="805" y="131" width="5" height="6"/><rect x="815" y="147" width="1" height="14"/><rect x="813" y="136" width="5" height="11"/><rect x="823" y="129" width="1" height="11"/><rect x="823" y="147" width="1" height="8"/><path d="M821 140h5v7h-5z M822 141v5h3v-5z" fill-rule="evenodd"/><rect x="822" y="141" width="3" height="5" fill="#fff"/><rect x="831" y="134" width="1" height="8"/><rect x="831" y="145" width="1" height="5"/><rect x="829" y="142" width="5" height="3"/><rect x="839" y="140" width="1" height="3"/><rect x="837" y="138" width="5" height="2"/><rect x="847" y="108" width="1" height="8"/><path d="M845 116h5v22h-5z M846 117v20h3v-20z" fill-rule="evenodd"/><rect x="846" y="117" width="3" height="20" fill="#fff"/><rect x="855" y="110" width="1" height="6"/><rect x="855" y="128" width="1" height="2"/><rect x="853" y="116" width="5" height="12"/><rect x="863" y="115" width="1" height="9"/><rect x="863" y="128" width="1" height="9"/><path d="M861 124h5v4h-5z M862 125v2h3v-2z" fill-rule="evenodd"/><rect x="862" y="125" width="3" height="2" fill="#fff"/><rect x="871" y="113" width="1" height="11"/><rect x="871" y="125" width="1" height="16"/><rect x="869" y="124" width="5" height="1"/><rect x="879" y="122" width="1" height="21"/><path d="M877 118h5v4h-5z M878 119v2h3v-2z" fill-rule="evenodd"/><rect x="878" y="119" width="3" height="2" fill="#fff"/><rect x="887" y="116" width="1" height="2"/><rect x="885" y="115" width="5" height="1"/><rect x="895" y="101" width="1" height="16"/><rect x="895" y="120" width="1" height="5"/><rect x="893" y="117" width="5" height="3"/><rect x="903" y="103" width="1" height="1"/><rect x="903" y="120" width="1" height="6"/><path d="M901 104h5v16h-5z M902 105v14h3v-14z" fill-rule="evenodd"/><rect x="902" y="105" width="3" height="14" fill="#fff"/><rect x="911" y="90" width="1" height="7"/><rect x="911" y="105" width="1" height="1"/><path d="M909 97h5v8h-5z M910 98v6h3v-6z" fill-rule="evenodd"/><rect x="910" y="98" width="3" height="6" fill="#fff"/><rect x="919" y="106" width="1" height="9"/><rect x="917" y="98" width="5" height="8"/><rect x="927" y="102" width="1" height="3"/><rect x="927" y="113" width="1" height="5"/><rect x="925" y="105" width="5" height="8"/><rect x="935" y="106" width="1" height="1"/><rect x="935" y="110" width="1" height="2"/><path d="M933 107h5v3h-5z M934 108v1h3v-1z" fill-rule="evenodd"/><rect x="934" y="108" width="3" height="1" fill="#fff"/><rect x="943" y="102" width="1" height="3"/><rect x="943" y="107" width="1" height="14"/><rect x="941" y="105" width="5" height="2"/><rect x="951" y="96" width="1" height="8"/><rect x="951" y="107" width="1" height="4"/><rect x="949" y="104" width="5" height="3"/><rect x="959" y="102" width="1" height="4"/><rect x="959" y="111" width="1" height="5"/><rect x="957" y="106" width="5" height="5"/><rect x="967" y="98" width="1" height="13"/><rect x="967" y="119" width="1" height="8"/><rect x="965" y="111" width="5" height="8"/><rect x="975" y="134" width="1" height="7"/><rect x="973" y="117" width="5" height="17"/><rect x="983" y="122" width="1" height="6"/><path d="M981 128h5v5h-5z M982 129v3h3v-3z" fill-rule="evenodd"/><rect x="982" y="129" width="3" height="3" fill="#fff"/><rect x="991" y="130" width="1" height="2"/><path d="M989 111h5v19h-5z M990 112v17h3v-17z" fill-rule="evenodd"/><rect x="990" y="112" width="3" height="17" fill="#fff"/><rect x="999" y="103" width="1" height="8"/><rect x="999" y="122" width="1" height="4"/><rect x="997" y="111" width="5" height="11"/><rect x="1007" y="121" width="1" height="1"/><rect x="1007" y="124" width="1" height="12"/><rect x="1005" y="122" width="5" height="2"/><rect x="1015" y="139" width="1" height="22"/><rect x="1013" y="123" width="5" height="16"/><rect x="1023" y="138" width="1" height="2"/><rect x="1023" y="163" width="1" height="16"/><rect x="1021" y="140" width="5" height="23"/><rect x="1031" y="158" width="1" height="2"/><rect x="1031" y="163" width="1" height="4"/><path d="M1029 160h5v3h-5z M1030 161v1h3v-1z" fill-rule="evenodd"/><rect x="1030" y="161" width="3" height="1" fill="#fff"/><rect x="1039" y="131" width="1" height="1"/><rect x="1039" y="159" width="1" height="5"/><path d="M1037 132h5v27h-5z M1038 133v25h3v-25z" fill-rule="evenodd"/><rect x="1038" y="133" width="3" height="25" fill="#fff"/><rect x="1047" y="115" width="1" height="12"/><path d="M1045 127h5v5h-5z M1046 128v3h3v-3z" fill-rule="evenodd"/><rect x="1046" y="128" width="3" height="3" fill="#fff"/><rect x="1055" y="116" width="1" height="12"/><rect x="1055" y="129" width="1" height="6"/><rect x="1053" y="128" width="5" height="1"/><rect x="1063" y="119" width="1" height="7"/><rect x="1063" y="131" width="1" height="9"/><rect x="1061" y="126" width="5" height="5"/><rect x="1071" y="131" width="1" height="14"/><path d="M1069 128h5v3h-5z M1070 129v1h3v-1z" fill-rule="evenodd"/><rect x="1070" y="129" width="3" height="1" fill="#fff"/><rect x="1079" y="129" width="1" height="3"/><rect x="1077" y="128" width="5" height="1"/><rect x="1087" y="121" width="1" height="1"/><rect x="1087" y="129" width="1" height="7"/><path d="M1085 122h5v7h-5z M1086 123v5h3v-5z" fill-rule="evenodd"/><rect x="1086" y="123" width="3" height="5" fill="#fff"/><rect x="1095" y="95" width="1" height="13"/><rect x="1095" y="122" width="1" height="3"/><path d="M1093 108h5v14h-5z M1094 109v12h3v-12z" fill-rule="evenodd"/><rect x="1094" y="109" width="3" height="12" fill="#fff"/><rect x="1103" y="75" width="1" height="4"/><rect x="1103" y="108" width="1" height="7"/><path d="M1101 79h5v29h-5z M1102 80v27h3v-27z" fill-rule="evenodd"/><rect x="1102" y="80" width="3" height="27" fill="#fff"/><rect x="1111" y="68" width="1" height="3"/><rect x="1111" y="79" width="1" height="3"/><path d="M1109 71h5v8h-5z M1110 72v6h3v-6z" fill-rule="evenodd"/><rect x="1110" y="72" width="3" height="6" fill="#fff"/><rect x="1119" y="69" width="1" height="2"/><rect x="1119" y="83" width="1" height="6"/><rect x="1117" y="71" width="5" height="12"/><rect x="1127" y="77" width="1" height="3"/><rect x="1127" y="81" width="1" height="2"/><rect x="1125" y="80" width="5" height="1"/><rect x="1135" y="75" width="1" height="5"/><rect x="1135" y="86" width="1" height="3"/><rect x="1133" y="80" width="5" height="6"/><rect x="1143" y="81" width="1" height="4"/><rect x="1143" y="92" width="1" height="5"/><rect x="1141" y="85" width="5" height="7"/><rect x="1151" y="78" width="1" height="13"/><rect x="1151" y="93" width="1" height="2"/><rect x="1149" y="91" width="5" height="2"/><rect x="1159" y="86" width="1" height="3"/><rect x="1159" y="92" width="1" height="11"/><path d="M1157 89h5v3h-5z M1158 90v1h3v-1z" fill-rule="evenodd"/><rect x="1158" y="90" width="3" height="1" fill="#fff"/><rect x="1167" y="82" width="1" height="7"/><rect x="1167" y="99" width="1" height="13"/><rect x="1165" y="89" width="5" height="10"/><rect x="1175" y="94" width="1" height="2"/><rect x="1175" y="97" width="1" height="2"/><rect x="1173" y="96" width="5" height="1"/><rect x="1183" y="73" width="1" height="2"/><rect x="1183" y="98" width="1" height="3"/><path d="M1181 75h5v23h-5z M1182 76v21h3v-21z" fill-rule="evenodd"/><rect x="1182" y="76" width="3" height="21" fill="#fff"/><rect x="1191" y="71" width="1" height="4"/><rect x="1191" y="76" width="1" height="3"/><rect x="1189" y="75" width="5" height="1"/><rect x="1199" y="69" width="1" height="2"/><rect x="1199" y="74" width="1" height="8"/><path d="M1197 71h5v3h-5z M1198 72v1h3v-1z" fill-rule="evenodd"/><rect x="1198" y="72" width="3" height="1" fill="#fff"/><rect x="1207" y="68" width="1" height="2"/><rect x="1207" y="75" width="1" height="8"/><rect x="1205" y="70" width="5" height="5"/><rect x="1215" y="66" width="1" height="15"/><rect x="1215" y="96" width="1" height="25"/><rect x="1213" y="81" width="5" height="15"/><rect x="1223" y="82" width="1" height="5"/><rect x="1221" y="80" width="5" height="2"/><rect x="1231" y="66" width="1" height="15"/><rect x="1231" y="86" width="1" height="5"/><rect x="1229" y="81" width="5" height="5"/><rect x="1239" y="72" width="1" height="1"/><rect x="1239" y="85" width="1" height="4"/><path d="M1237 73h5v12h-5z M1238 74v10h3v-10z" fill-rule="evenodd"/><rect x="1238" y="74" width="3" height="10" fill="#fff"/><rect x="1247" y="49" width="1" height="3"/><path d="M1245 52h5v22h-5z M1246 53v20h3v-20z" fill-rule="evenodd"/><rect x="1246" y="53" width="3" height="20" fill="#fff"/><rect x="1255" y="52" width="1" height="1"/><rect x="1255" y="86" width="1" height="8"/><rect x="1253" y="53" width="5" height="33"/><rect x="1263" y="70" width="1" height="11"/><rect x="1263" y="86" width="1" height="15"/><path d="M1261 81h5v5h-5z M1262 82v3h3v-3z" fill-rule="evenodd"/><rect x="1262" y="82" width="3" height="3" fill="#fff"/><rect x="1269" y="81" width="5" height="2"/><rect x="1279" y="82" width="1" height="8"/><rect x="1277" y="81" width="5" height="1"/><rect x="1287" y="70" width="1" height="11"/><rect x="1285" y="81" width="5" height="26"/><rect x="1295" y="86" width="1" height="1"/><rect x="1295" y="106" width="1" height="5"/><path d="M1293 87h5v19h-5z M1294 88v17h3v-17z" fill-rule="evenodd"/><rect x="1294" y="88" width="3" height="17" fill="#fff"/><rect x="1303" y="83" width="1" height="6"/><rect x="1303" y="90" width="1" height="9"/><rect x="1301" y="89" width="5" height="1"/><rect x="1311" y="74" width="1" height="7"/><rect x="1311" y="89" width="1" height="2"/><path d="M1309 81h5v8h-5z M1310 82v6h3v-6z" fill-rule="evenodd"/><rect x="1310" y="82" width="3" height="6" fill="#fff"/><rect x="1319" y="66" width="1" height="1"/><rect x="1319" y="69" width="1" height="3"/><rect x="1317" y="67" width="5" height="2"/><rect x="1327" y="61" width="1" height="7"/><rect x="1327" y="73" width="1" height="1"/><rect x="1325" y="68" width="5" height="5"/><rect x="1335" y="67" width="1" height="6"/><rect x="1335" y="74" width="1" height="1"/><rect x="1333" y="73" width="5" height="1"/><rect x="1343" y="67" width="1" height="7"/><rect x="1341" y="74" width="5" height="1"/><rect x="1351" y="76" width="1" height="10"/><rect x="1349" y="74" width="5" height="2"/><rect x="1359" y="85" width="1" height="5"/><rect x="1357" y="81" width="5" height="4"/><rect x="1367" y="81" width="1" height="3"/><path d="M1365 84h5v3h-5z M1366 85v1h3v-1z" fill-rule="evenodd"/><rect x="1366" y="85" width="3" height="1" fill="#fff"/><rect x="1375" y="81" width="1" height="3"/><rect x="1375" y="106" width="1" height="21"/><rect x="1373" y="84" width="5" height="22"/><rect x="1383" y="104" width="1" height="16"/><path d="M1381 87h5v17h-5z M1382 88v15h3v-15z" fill-rule="evenodd"/><rect x="1382" y="88" width="3" height="15" fill="#fff"/><rect x="1391" y="74" width="1" height="12"/><rect x="1391" y="90" width="1" height="3"/><rect x="1389" y="86" width="5" height="4"/><rect x="1399" y="84" width="1" height="2"/><rect x="1399" y="89" width="1" height="12"/><path d="M1397 86h5v3h-5z M1398 87v1h3v-1z" fill-rule="evenodd"/><rect x="1398" y="87" width="3" height="1" fill="#fff"/><rect x="1407" y="81" width="1" height="7"/><rect x="1407" y="89" width="1" height="12"/><rect x="1405" y="88" width="5" height="1"/><rect x="1415" y="78" width="1" height="2"/><rect x="1415" y="84" width="1" height="4"/><path d="M1413 80h5v4h-5z M1414 81v2h3v-2z" fill-rule="evenodd"/><rect x="1414" y="81" width="3" height="2" fill="#fff"/><rect x="1423" y="62" width="1" height="4"/><rect x="1423" y="75" width="1" height="7"/><path d="M1421 66h5v9h-5z M1422 67v7h3v-7z" fill-rule="evenodd"/><rect x="1422" y="67" width="3" height="7" fill="#fff"/><rect x="1431" y="51" width="1" height="12"/><rect x="1431" y="65" width="1" height="4"/><rect x="1429" y="63" width="5" height="2"/></g><rect x="1211" y="75" width="275" height="6" fill="#00ff00"/><rect x="1189.5" y="64.5" width="246" height="38" fill="none" stroke="#0000ff" stroke-width="3"/><line x1="1371.5" y1="123.8" x2="1437" y2="56.5" stroke="#ff0000" stroke-width="3"/><path d="M1445 49.4 L1433.4 54.2 L1437 57 L1439.8 60.8 Z" fill="#ff0000" stroke="#ff0000" stroke-width="1" stroke-linejoin="round"/><path d="M1441 23 L1450.5 23 L1445.7 28 Z" fill="#c0c0c0"/></g><path d="M1493.2 95.5 L1484.5 101.7 M1490.5 98.2 H1500.5 L1491 105 M1488.8 99.6 L1492.6 103.6 M1491.5 103.6 L1484 108.6 M1487.5 105.3 H1501.2 L1484 114 M1486.8 107 L1490.2 110.8 M1514.7 95.4 L1516.7 97.5 M1508.6 101.6 L1508.8 98.2 H1525 L1524.2 100.8 M1512.6 100 L1507 105.3 M1517.8 100.2 L1523.9 103.4 M1508.4 105.6 H1522.8 M1516 105.6 V112.2 M1506.3 112.3 H1525.2 M1529.3 98.5 H1536.3 M1533.7 95.5 L1530.2 103.7 L1535.8 102.8 M1533.9 98.5 V113.3 M1528.9 109.3 L1535.8 107.6 M1537.6 98.9 H1547.5 M1536.7 103.3 H1548.4 M1543.2 95.5 L1540.6 106.3 H1546.7 L1542.3 110.2 M1539.3 109.3 L1544.9 113.2 M1552.3 100.7 H1559.7 M1557.1 95.5 V113.2 L1555.4 112.4 M1552.3 106.9 L1560.1 103.7 M1570.2 95.8 L1563.1 97.6 V104.5 Q1562.8 109 1558.8 112.9 M1563.1 102.4 H1571.6 M1567.2 102.4 V113.3 M1584.4 95.5 V102 M1584.4 98.6 H1593 M1579.2 102 H1590.9 V108.5 H1579.2 Z M1578.2 110 L1576.6 112.9 M1581.8 110.4 L1583 112.6 M1586.6 110.4 L1587.8 112.6 M1590.8 110 L1593 112.9" stroke="#00ff00" stroke-width="1.5" fill="none" stroke-linecap="square"/><rect x="0" y="30" width="2" height="2" fill="#000"/><text x="5.5" y="34" font-family="'Liberation Sans', sans-serif" font-size="9" fill="#000" textLength="60" lengthAdjust="spacingAndGlyphs">JPN225-,Daily</text><text x="72" y="34" font-family="'Liberation Sans', sans-serif" font-size="9" fill="#000" textLength="141" lengthAdjust="spacingAndGlyphs">23387.5 23592.5 23322.5 23420.0</text><g clip-path="url(#cmacd)"><g fill="#c0c0c0" shape-rendering="crispEdges"><rect x="7" y="640" width="1" height="42"/><rect x="15" y="640" width="1" height="45"/><rect x="23" y="640" width="1" height="51"/><rect x="31" y="640" width="1" height="57"/><rect x="39" y="640" width="1" height="60"/><rect x="47" y="640" width="1" height="66"/><rect x="55" y="640" width="1" height="80"/><rect x="63" y="640" width="1" height="84"/><rect x="71" y="640" width="1" height="89"/><rect x="79" y="640" width="1" height="97"/><rect x="87" y="640" width="1" height="98"/><rect x="95" y="640" width="1" height="100"/><rect x="103" y="640" width="1" height="98"/><rect x="111" y="640" width="1" height="96"/><rect x="119" y="640" width="1" height="96"/><rect x="127" y="640" width="1" height="91"/><rect x="135" y="640" width="1" height="79"/><rect x="143" y="640" width="1" height="68"/><rect x="151" y="640" width="1" height="57"/><rect x="159" y="640" width="1" height="50"/><rect x="167" y="640" width="1" height="45"/><rect x="175" y="640" width="1" height="37"/><rect x="183" y="640" width="1" height="33"/><rect x="191" y="640" width="1" height="34"/><rect x="199" y="640" width="1" height="33"/><rect x="207" y="640" width="1" height="34"/><rect x="215" y="640" width="1" height="33"/><rect x="223" y="640" width="1" height="26"/><rect x="231" y="640" width="1" height="20"/><rect x="239" y="640" width="1" height="14"/><rect x="247" y="640" width="1" height="8"/><rect x="255" y="640" width="1" height="4"/><rect x="279" y="636" width="1" height="4"/><rect x="287" y="635" width="1" height="5"/><rect x="295" y="632" width="1" height="8"/><rect x="303" y="630" width="1" height="10"/><rect x="311" y="629" width="1" height="11"/><rect x="319" y="629" width="1" height="11"/><rect x="327" y="631" width="1" height="9"/><rect x="335" y="631" width="1" height="9"/><rect x="343" y="631" width="1" height="9"/><rect x="351" y="630" width="1" height="10"/><rect x="359" y="631" width="1" height="9"/><rect x="367" y="629" width="1" height="11"/><rect x="375" y="627" width="1" height="13"/><rect x="383" y="624" width="1" height="16"/><rect x="391" y="624" width="1" height="16"/><rect x="399" y="625" width="1" height="15"/><rect x="407" y="627" width="1" height="13"/><rect x="415" y="630" width="1" height="10"/><rect x="423" y="630" width="1" height="10"/><rect x="431" y="632" width="1" height="8"/><rect x="439" y="630" width="1" height="10"/><rect x="447" y="627" width="1" height="13"/><rect x="455" y="627" width="1" height="13"/><rect x="463" y="623" width="1" height="17"/><rect x="471" y="624" width="1" height="16"/><rect x="479" y="624" width="1" height="16"/><rect x="487" y="624" width="1" height="16"/><rect x="495" y="626" width="1" height="14"/><rect x="503" y="624" width="1" height="16"/><rect x="511" y="623" width="1" height="17"/><rect x="519" y="622" width="1" height="18"/><rect x="527" y="621" width="1" height="19"/><rect x="535" y="621" width="1" height="19"/><rect x="543" y="622" width="1" height="18"/><rect x="551" y="621" width="1" height="19"/><rect x="559" y="619" width="1" height="21"/><rect x="567" y="616" width="1" height="24"/><rect x="575" y="612" width="1" height="28"/><rect x="583" y="609" width="1" height="31"/><rect x="591" y="606" width="1" height="34"/><rect x="599" y="604" width="1" height="36"/><rect x="607" y="602" width="1" height="38"/><rect x="615" y="597" width="1" height="43"/><rect x="623" y="593" width="1" height="47"/><rect x="631" y="592" width="1" height="48"/><rect x="639" y="590" width="1" height="50"/><rect x="647" y="588" width="1" height="52"/><rect x="655" y="587" width="1" height="53"/><rect x="663" y="589" width="1" height="51"/><rect x="671" y="591" width="1" height="49"/><rect x="679" y="598" width="1" height="42"/><rect x="687" y="602" width="1" height="38"/><rect x="695" y="607" width="1" height="33"/><rect x="703" y="611" width="1" height="29"/><rect x="711" y="612" width="1" height="28"/><rect x="719" y="614" width="1" height="26"/><rect x="727" y="615" width="1" height="25"/><rect x="735" y="617" width="1" height="23"/><rect x="743" y="619" width="1" height="21"/><rect x="751" y="619" width="1" height="21"/><rect x="759" y="620" width="1" height="20"/><rect x="767" y="622" width="1" height="18"/><rect x="775" y="623" width="1" height="17"/><rect x="783" y="625" width="1" height="15"/><rect x="791" y="627" width="1" height="13"/><rect x="799" y="628" width="1" height="12"/><rect x="807" y="629" width="1" height="11"/><rect x="815" y="630" width="1" height="10"/><rect x="823" y="631" width="1" height="9"/><rect x="831" y="633" width="1" height="7"/><rect x="839" y="633" width="1" height="7"/><rect x="847" y="632" width="1" height="8"/><rect x="855" y="632" width="1" height="8"/><rect x="863" y="632" width="1" height="8"/><rect x="871" y="631" width="1" height="9"/><rect x="879" y="632" width="1" height="8"/><rect x="887" y="632" width="1" height="8"/><rect x="895" y="631" width="1" height="9"/><rect x="903" y="631" width="1" height="9"/><rect x="911" y="630" width="1" height="10"/><rect x="919" y="628" width="1" height="12"/><rect x="927" y="629" width="1" height="11"/><rect x="935" y="629" width="1" height="11"/><rect x="943" y="629" width="1" height="11"/><rect x="951" y="628" width="1" height="12"/><rect x="959" y="630" width="1" height="10"/><rect x="967" y="631" width="1" height="9"/><rect x="975" y="633" width="1" height="7"/><rect x="983" y="635" width="1" height="5"/><rect x="991" y="635" width="1" height="5"/><rect x="999" y="636" width="1" height="4"/><rect x="1007" y="636" width="1" height="4"/><rect x="1015" y="638" width="1" height="2"/><rect x="1023" y="639" width="1" height="1"/><rect x="1031" y="640" width="1" height="4"/><rect x="1039" y="640" width="1" height="3"/><rect x="1047" y="640" width="1" height="2"/><rect x="1055" y="640" width="1" height="1"/><rect x="1063" y="640" width="1" height="1"/><rect x="1071" y="640" width="1" height="1"/><rect x="1079" y="640" width="1" height="1"/><rect x="1087" y="640" width="1" height="1"/><rect x="1095" y="640" width="1" height="1"/><rect x="1103" y="635" width="1" height="5"/><rect x="1111" y="632" width="1" height="8"/><rect x="1119" y="630" width="1" height="10"/><rect x="1127" y="629" width="1" height="11"/><rect x="1135" y="628" width="1" height="12"/><rect x="1143" y="628" width="1" height="12"/><rect x="1151" y="629" width="1" height="11"/><rect x="1159" y="629" width="1" height="11"/><rect x="1167" y="629" width="1" height="11"/><rect x="1175" y="631" width="1" height="9"/><rect x="1183" y="629" width="1" height="11"/><rect x="1191" y="629" width="1" height="11"/><rect x="1199" y="629" width="1" height="11"/><rect x="1207" y="629" width="1" height="11"/><rect x="1215" y="630" width="1" height="10"/><rect x="1223" y="630" width="1" height="10"/><rect x="1231" y="630" width="1" height="10"/><rect x="1239" y="630" width="1" height="10"/><rect x="1247" y="629" width="1" height="11"/><rect x="1255" y="630" width="1" height="10"/><rect x="1263" y="630" width="1" height="10"/><rect x="1271" y="631" width="1" height="9"/><rect x="1279" y="632" width="1" height="8"/><rect x="1287" y="634" width="1" height="6"/><rect x="1295" y="635" width="1" height="5"/><rect x="1303" y="636" width="1" height="4"/><rect x="1311" y="636" width="1" height="4"/><rect x="1319" y="635" width="1" height="5"/><rect x="1327" y="633" width="1" height="7"/><rect x="1335" y="633" width="1" height="7"/><rect x="1343" y="633" width="1" height="7"/><rect x="1351" y="636" width="1" height="4"/><rect x="1359" y="635" width="1" height="5"/><rect x="1367" y="636" width="1" height="4"/><rect x="1375" y="638" width="1" height="2"/><rect x="1383" y="639" width="1" height="1"/><rect x="1391" y="639" width="1" height="1"/><rect x="1399" y="639" width="1" height="1"/><rect x="1407" y="639" width="1" height="1"/><rect x="1415" y="638" width="1" height="2"/><rect x="1423" y="637" width="1" height="3"/><rect x="1431" y="636" width="1" height="4"/></g><polyline points="3.1,669.4 14.6,674.0 31.2,682.3 47.8,689.6 64.5,697.9 79.0,708.3 89.4,716.6 104.0,725.6 118.6,732.2 129.0,733.9 145.6,730.1 166.4,716.6 187.2,699.0 208.0,682.3 228.8,673.0 249.6,665.3 270.4,655.7 291.2,642.8 312.0,636.1 332.8,632.4 350.0,630.3 370.8,629.9 395.8,627.8 433.2,627.8 474.8,627.2 495.6,625.7 516.4,623.7 537.2,622.4 562.1,621.0 578.8,617.4 599.6,613.3 620.4,606.4 641.2,599.1 651.6,595.4 666.1,591.2 691.1,591.2 700.0,594.5 720.8,599.1 741.6,610.6 762.4,614.7 783.2,618.3 804.0,623.0 824.8,626.2 845.6,629.3 876.8,630.3 897.6,631.4 918.4,629.7 949.6,628.7 970.4,628.7 991.2,630.7 1012.0,632.4 1032.8,637.0 1060.0,639.7 1077.0,641.1 1102.0,641.1 1118.6,637.6 1143.6,632.4 1164.4,629.3 1174.8,628.7 1268.4,629.3 1299.6,630.7 1324.5,632.8 1349.5,634.1 1395.3,636.1 1410.0,636.6 1428.0,637.5" fill="none" stroke="#ff0000" stroke-width="1" stroke-dasharray="3,3" shape-rendering="crispEdges"/></g><text x="-3" y="590" font-family="'Liberation Sans', sans-serif" font-size="9" fill="#000">MACD(12,26,9) 59.93 26.68</text><g clip-path="url(#crsi)"><line x1="0" y1="785.5" x2="1684" y2="785.5" stroke="#c0c0c0" stroke-width="1" stroke-dasharray="3,3"/><line x1="0" y1="836.5" x2="1684" y2="836.5" stroke="#c0c0c0" stroke-width="1" stroke-dasharray="3,3"/><line x1="0" y1="897.5" x2="1684" y2="897.5" stroke="#c0c0c0" stroke-width="1" stroke-dasharray="3,3"/><polyline points="0.0,857.3 7.5,860.4 15.5,869.8 23.5,874.0 31.5,879.2 39.5,874.4 47.5,880.2 55.5,892.3 63.5,870.8 71.5,875.0 79.5,880.2 87.5,872.3 95.5,872.3 103.5,868.3 111.5,869.4 119.5,874.0 127.5,857.3 135.5,840.7 143.5,840.3 151.5,836.1 159.5,842.1 167.5,842.3 175.5,835.5 183.5,841.7 191.5,849.4 199.5,849.4 207.5,851.5 215.5,849.4 223.5,833.4 231.5,833.4 239.5,829.2 247.5,826.1 255.5,829.2 263.5,831.3 271.5,833.4 279.5,827.6 287.5,832.4 295.5,825.1 303.5,827.6 311.5,827.6 319.5,830.7 327.5,837.6 335.5,834.9 343.5,833.4 351.5,830.3 359.5,830.3 367.5,823.0 375.5,820.3 383.5,813.6 391.5,825.1 399.5,834.4 407.5,840.3 415.5,836.1 423.5,832.4 431.5,836.1 439.5,825.1 447.5,819.9 455.5,818.2 463.5,816.8 471.5,826.5 479.5,825.7 487.5,824.5 495.5,828.2 503.5,826.1 511.5,814.7 519.5,820.9 527.5,815.7 535.5,820.3 543.5,820.3 551.5,817.8 559.5,812.0 567.5,806.4 575.5,798.7 583.5,797.4 591.5,794.5 599.5,795.3 607.5,791.2 615.5,784.5 623.5,782.4 631.5,794.9 639.5,788.3 647.5,788.3 655.5,789.7 663.5,801.2 671.5,806.4 679.5,831.9 687.5,827.8 695.5,830.3 703.5,829.2 711.5,820.3 719.5,824.5 727.5,821.5 735.5,827.2 743.5,827.2 751.5,818.8 759.5,823.0 767.5,831.9 775.5,827.8 783.5,831.9 791.5,833.4 799.5,828.6 807.5,830.3 815.5,836.1 823.5,833.4 831.5,835.5 839.5,832.4 847.5,821.5 855.5,828.2 863.5,826.1 871.5,826.1 879.5,823.6 887.5,822.4 895.5,824.5 903.5,816.1 911.5,813.2 919.5,819.9 927.5,825.1 935.5,822.4 943.5,821.5 951.5,822.4 959.5,826.1 967.5,833.4 975.5,846.5 983.5,840.7 991.5,828.2 999.5,836.1 1007.5,836.9 1015.5,846.9 1023.5,861.1 1031.5,859.0 1039.5,838.2 1047.5,835.5 1055.5,835.3 1063.5,838.1 1071.5,836.2 1079.5,836.2 1087.5,832.2 1095.5,820.8 1103.5,806.6 1111.5,803.0 1119.5,813.2 1127.5,811.3 1135.5,816.1 1143.5,822.0 1151.5,822.0 1159.5,821.3 1167.5,829.1 1175.5,827.4 1183.5,813.2 1191.5,813.2 1199.5,811.3 1207.5,814.9 1215.5,835.5 1223.5,823.2 1231.5,829.1 1239.5,820.3 1247.5,811.3 1255.5,834.5 1263.5,830.3 1271.5,832.2 1279.5,829.1 1287.5,846.4 1295.5,835.5 1303.5,836.2 1311.5,832.2 1319.5,826.0 1327.5,828.4 1335.5,828.4 1343.5,829.1 1351.5,832.6 1359.5,836.9 1367.5,837.4 1375.5,850.4 1383.5,836.9 1391.5,839.3 1399.5,836.9 1407.5,833.1 1415.5,830.3 1423.5,822.0 1431.5,821.3" fill="none" stroke="#1e90ff" stroke-width="1" shape-rendering="crispEdges"/></g><text x="-5.5" y="762.5" font-family="'Liberation Sans', sans-serif" font-size="9" fill="#000">RSI(14) 59.2835</text><g fill="#000" shape-rendering="crispEdges"><rect x="0" y="22" width="1685" height="1"/><rect x="1684" y="22" width="1" height="554"/><rect x="0" y="575" width="1685" height="1"/><rect x="0" y="577" width="1685" height="1"/><rect x="1684" y="577" width="1" height="171"/><rect x="0" y="747" width="1685" height="1"/><rect x="0" y="749" width="1685" height="1"/><rect x="1684" y="749" width="1" height="175"/><rect x="0" y="923" width="1685" height="1"/><rect x="1685" y="143" width="2" height="1"/><rect x="1685" y="176" width="2" height="1"/><rect x="1685" y="209" width="2" height="1"/><rect x="1685" y="242" width="2" height="1"/><rect x="1685" y="275" width="2" height="1"/><rect x="1685" y="308" width="2" height="1"/><rect x="1685" y="341" width="2" height="1"/><rect x="1685" y="374" width="2" height="1"/><rect x="1685" y="407" width="2" height="1"/><rect x="1685" y="440" width="2" height="1"/><rect x="1685" y="473" width="2" height="1"/><rect x="1685" y="506" width="2" height="1"/><rect x="1685" y="539" width="2" height="1"/><rect x="1685" y="572" width="2" height="1"/><rect x="1685" y="579" width="1" height="1"/><rect x="1685" y="639" width="2" height="1"/><rect x="1685" y="746" width="1" height="1"/><rect x="1685" y="751" width="1" height="1"/><rect x="1685" y="785" width="2" height="1"/><rect x="1685" y="836" width="2" height="1"/><rect x="1685" y="897" width="2" height="1"/><rect x="1685" y="922" width="1" height="1"/><rect x="55" y="924" width="1" height="3"/><rect x="119" y="924" width="1" height="3"/><rect x="183" y="924" width="1" height="3"/><rect x="247" y="924" width="1" height="3"/><rect x="311" y="924" width="1" height="3"/><rect x="375" y="924" width="1" height="3"/><rect x="439" y="924" width="1" height="3"/><rect x="503" y="924" width="1" height="3"/><rect x="567" y="924" width="1" height="3"/><rect x="631" y="924" width="1" height="3"/><rect x="695" y="924" width="1" height="3"/><rect x="759" y="924" width="1" height="3"/><rect x="823" y="924" width="1" height="3"/><rect x="887" y="924" width="1" height="3"/><rect x="951" y="924" width="1" height="3"/><rect x="1015" y="924" width="1" height="3"/><rect x="1079" y="924" width="1" height="3"/><rect x="1143" y="924" width="1" height="3"/><rect x="1207" y="924" width="1" height="3"/><rect x="1271" y="924" width="1" height="3"/><rect x="1335" y="924" width="1" height="3"/><rect x="1399" y="924" width="1" height="3"/></g><text x="1690.5" y="147" font-family="'Liberation Sans', sans-serif" font-size="9.4" fill="#000" textLength="32.5" lengthAdjust="spacingAndGlyphs">22195.0</text><text x="1690.5" y="180" font-family="'Liberation Sans', sans-serif" font-size="9.4" fill="#000" textLength="32.5" lengthAdjust="spacingAndGlyphs">21700.0</text><text x="1690.5" y="213" font-family="'Liberation Sans', sans-serif" font-size="9.4" fill="#000" textLength="32.5" lengthAdjust="spacingAndGlyphs">21205.0</text><text x="1690.5" y="246" font-family="'Liberation Sans', sans-serif" font-size="9.4" fill="#000" textLength="32.5" lengthAdjust="spacingAndGlyphs">20695.0</text><text x="1690.5" y="279" font-family="'Liberation Sans', sans-serif" font-size="9.4" fill="#000" textLength="32.5" lengthAdjust="spacingAndGlyphs">20200.0</text><text x="1690.5" y="312" font-family="'Liberation Sans', sans-serif" font-size="9.4" fill="#000" textLength="32.5" lengthAdjust="spacingAndGlyphs">19690.0</text><text x="1690.5" y="345" font-family="'Liberation Sans', sans-serif" font-size="9.4" fill="#000" textLength="32.5" lengthAdjust="spacingAndGlyphs">19195.0</text><text x="1690.5" y="378" font-family="'Liberation Sans', sans-serif" font-size="9.4" fill="#000" textLength="32.5" lengthAdjust="spacingAndGlyphs">18700.0</text><text x="1690.5" y="411" font-family="'Liberation Sans', sans-serif" font-size="9.4" fill="#000" textLength="32.5" lengthAdjust="spacingAndGlyphs">18190.0</text><text x="1690.5" y="444" font-family="'Liberation Sans', sans-serif" font-size="9.4" fill="#000" textLength="32.5" lengthAdjust="spacingAndGlyphs">17695.0</text><text x="1690.5" y="477" font-family="'Liberation Sans', sans-serif" font-size="9.4" fill="#000" textLength="32.5" lengthAdjust="spacingAndGlyphs">17200.0</text><text x="1690.5" y="510" font-family="'Liberation Sans', sans-serif" font-size="9.4" fill="#000" textLength="32.5" lengthAdjust="spacingAndGlyphs">16690.0</text><text x="1690.5" y="543" font-family="'Liberation Sans', sans-serif" font-size="9.4" fill="#000" textLength="32.5" lengthAdjust="spacingAndGlyphs">16195.0</text><text x="1690.5" y="576" font-family="'Liberation Sans', sans-serif" font-size="9.4" fill="#000" textLength="32.5" lengthAdjust="spacingAndGlyphs">15700.0</text><rect x="1686" y="24" width="41" height="11" fill="#ff0000"/><text x="1690" y="33.2" font-family="'Liberation Sans', sans-serif" font-size="9.6" fill="#fff" textLength="33" lengthAdjust="spacingAndGlyphs">23906.0</text><rect x="1686" y="39" width="41" height="11" fill="#ff0000"/><text x="1690" y="48.2" font-family="'Liberation Sans', sans-serif" font-size="9.6" fill="#fff" textLength="33" lengthAdjust="spacingAndGlyphs">23678.9</text><rect x="1686" y="57" width="41" height="11" fill="#000000"/><text x="1690" y="66.2" font-family="'Liberation Sans', sans-serif" font-size="9.6" fill="#fff" textLength="33" lengthAdjust="spacingAndGlyphs">23420.0</text><rect x="1686" y="71" width="41" height="11" fill="#32cd32"/><text x="1690" y="80.2" font-family="'Liberation Sans', sans-serif" font-size="9.6" fill="#fff" textLength="33" lengthAdjust="spacingAndGlyphs">23194.5</text><rect x="1686" y="87" width="41" height="11" fill="#0000ff"/><text x="1690" y="96.2" font-family="'Liberation Sans', sans-serif" font-size="9.6" fill="#fff" textLength="33" lengthAdjust="spacingAndGlyphs">22952.2</text><rect x="1686" y="106" width="41" height="11" fill="#0000ff"/><text x="1690" y="115.2" font-family="'Liberation Sans', sans-serif" font-size="9.6" fill="#fff" textLength="33" lengthAdjust="spacingAndGlyphs">22664.6</text><text x="1688" y="587.5" font-family="'Liberation Sans', sans-serif" font-size="9.4" fill="#000">931.89</text><text x="1688" y="643" font-family="'Liberation Sans', sans-serif" font-size="9.4" fill="#000">0.00</text><text x="1688" y="744" font-family="'Liberation Sans', sans-serif" font-size="9.4" fill="#000">-1667.31</text><text x="1687.5" y="760" font-family="'Liberation Sans', sans-serif" font-size="9.4" fill="#000">100</text><text x="1687.5" y="789" font-family="'Liberation Sans', sans-serif" font-size="9.4" fill="#000">80</text><text x="1687.5" y="840" font-family="'Liberation Sans', sans-serif" font-size="9.4" fill="#000">50</text><text x="1687.5" y="901" font-family="'Liberation Sans', sans-serif" font-size="9.4" fill="#000">15</text><text x="1687.5" y="920" font-family="'Liberation Sans', sans-serif" font-size="9.4" fill="#000">0</text><text x="-9.5" y="936" font-family="'Liberation Sans', sans-serif" font-size="9.4" fill="#000">4 Mar 2020</text><text x="54.5" y="936" font-family="'Liberation Sans', sans-serif" font-size="9.4" fill="#000">12 Mar 2020</text><text x="118.5" y="936" font-family="'Liberation Sans', sans-serif" font-size="9.4" fill="#000">22 Mar 2020</text><text x="182.5" y="936" font-family="'Liberation Sans', sans-serif" font-size="9.4" fill="#000">31 Mar 2020</text><text x="246.5" y="936" font-family="'Liberation Sans', sans-serif" font-size="9.4" fill="#000">9 Apr 2020</text><text x="310.5" y="936" font-family="'Liberation Sans', sans-serif" font-size="9.4" fill="#000">19 Apr 2020</text><text x="374.5" y="936" font-family="'Liberation Sans', sans-serif" font-size="9.4" fill="#000">28 Apr 2020</text><text x="438.5" y="936" font-family="'Liberation Sans', sans-serif" font-size="9.4" fill="#000">7 May 2020</text><text x="502.5" y="936" font-family="'Liberation Sans', sans-serif" font-size="9.4" fill="#000">17 May 2020</text><text x="566.5" y="936" font-family="'Liberation Sans', sans-serif" font-size="9.4" fill="#000">26 May 2020</text><text x="630.5" y="936" font-family="'Liberation Sans', sans-serif" font-size="9.4" fill="#000">4 Jun 2020</text><text x="694.5" y="936" font-family="'Liberation Sans', sans-serif" font-size="9.4" fill="#000">14 Jun 2020</text><text x="758.5" y="936" font-family="'Liberation Sans', sans-serif" font-size="9.4" fill="#000">23 Jun 2020</text><text x="822.5" y="936" font-family="'Liberation Sans', sans-serif" font-size="9.4" fill="#000">2 Jul 2020</text><text x="886.5" y="936" font-family="'Liberation Sans', sans-serif" font-size="9.4" fill="#000">12 Jul 2020</text><text x="950.5" y="936" font-family="'Liberation Sans', sans-serif" font-size="9.4" fill="#000">21 Jul 2020</text><text x="1014.5" y="936" font-family="'Liberation Sans', sans-serif" font-size="9.4" fill="#000">30 Jul 2020</text><text x="1078.5" y="936" font-family="'Liberation Sans', sans-serif" font-size="9.4" fill="#000">9 Aug 2020</text><text x="1142.5" y="936" font-family="'Liberation Sans', sans-serif" font-size="9.4" fill="#000">18 Aug 2020</text><text x="1206.5" y="936" font-family="'Liberation Sans', sans-serif" font-size="9.4" fill="#000">27 Aug 2020</text><text x="1270.5" y="936" font-family="'Liberation Sans', sans-serif" font-size="9.4" fill="#000">6 Sep 2020</text><text x="1334.5" y="936" font-family="'Liberation Sans', sans-serif" font-size="9.4" fill="#000">15 Sep 2020</text><text x="1398.5" y="936" font-family="'Liberation Sans', sans-serif" font-size="9.4" fill="#000">24 Sep 2020</text><rect x="0" y="40" width="215" height="67" fill="#ffffff"/><rect x="0" y="42" width="46" height="24" fill="#c81e1e"/><rect x="0" y="43" width="45" height="22" fill="url(#gSellBtn)"/><rect x="0" y="65" width="42" height="1" fill="#8a0a0a"/><text x="6.5" y="58" font-family="'Liberation Sans', sans-serif" font-size="12.4" fill="#fff" textLength="25" lengthAdjust="spacingAndGlyphs">SELL</text><rect x="161" y="42" width="52" height="24" fill="#c81e1e"/><rect x="162" y="43" width="51" height="22" fill="url(#gSellBtn)"/><rect x="165" y="65" width="44" height="1" fill="#8a0a0a"/><text x="174.3" y="58" font-family="'Liberation Sans', sans-serif" font-size="12.4" fill="#fff" textLength="23.4" lengthAdjust="spacingAndGlyphs">BUY</text><rect x="46" y="42" width="115" height="24" fill="#ffffff"/><rect x="48.5" y="42.5" width="111" height="21" fill="#fff" stroke="#a9acb2" stroke-width="1"/><rect x="49.5" y="43.5" width="19" height="19" fill="url(#gSpin)" stroke="#c4c6ca" stroke-width="1"/><rect x="138.5" y="43.5" width="19" height="19" fill="url(#gSpin)" stroke="#c4c6ca" stroke-width="1"/><path d="M56 51.5 L61.5 51.5 L58.75 54.5 Z" fill="#4a5ac8"/><path d="M145.5 54 L151 54 L148.25 51 Z" fill="#4a5ac8"/><text x="133.5" y="57" font-family="'Liberation Sans', sans-serif" font-size="11.3" fill="#000" text-anchor="end">1.00</text><rect x="0" y="66" width="103" height="40" fill="url(#gPrice)"/><rect x="105" y="66" width="108" height="40" fill="url(#gPrice)"/><rect x="103" y="66" width="2" height="40" fill="#ffffff"/><text x="10" y="97" font-family="'Liberation Sans', sans-serif" font-size="12.8" font-weight="bold" fill="#fff" stroke="#fff" stroke-width="0.25" textLength="35" lengthAdjust="spacingAndGlyphs">23418</text><circle cx="51.5" cy="95.3" r="2" fill="#fff"/><text x="56.5" y="97" font-family="'Liberation Sans', sans-serif" font-size="35.5" fill="#fff" textLength="15" lengthAdjust="spacingAndGlyphs">5</text><text x="120.3" y="97" font-family="'Liberation Sans', sans-serif" font-size="12.8" font-weight="bold" fill="#fff" stroke="#fff" stroke-width="0.25" textLength="34" lengthAdjust="spacingAndGlyphs">23441</text><circle cx="163" cy="95.3" r="2" fill="#fff"/><text x="167.5" y="97" font-family="'Liberation Sans', sans-serif" font-size="35.5" fill="#fff" textLength="14.5" lengthAdjust="spacingAndGlyphs">5</text></svg>
</body></html>
